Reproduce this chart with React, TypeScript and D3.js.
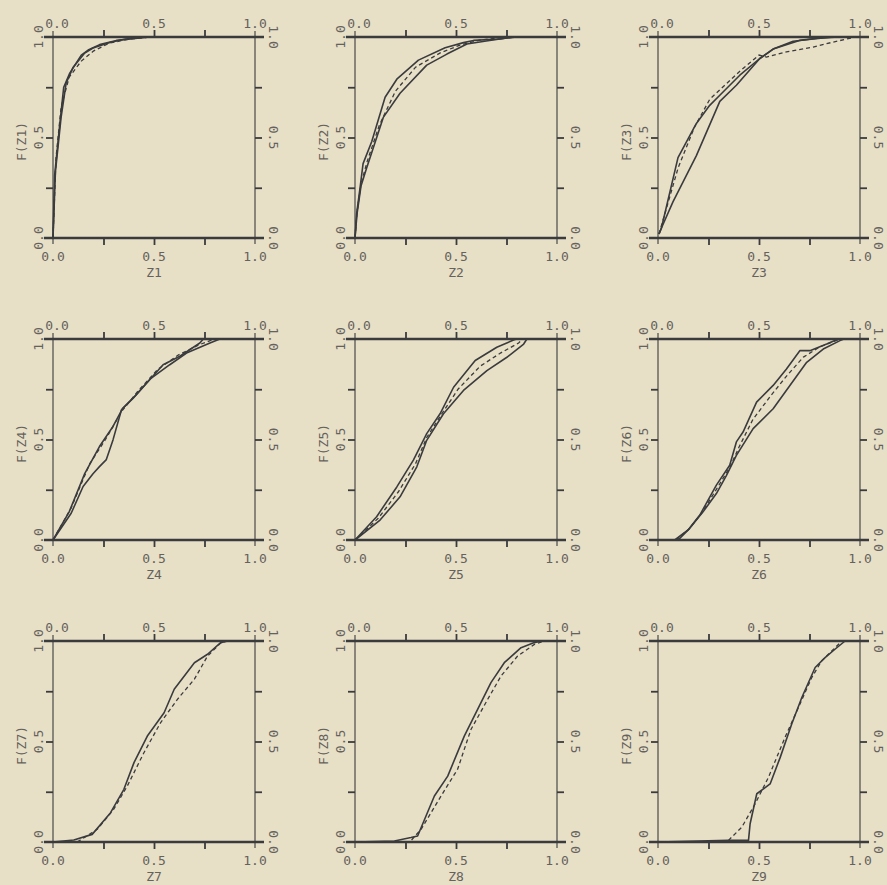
import { useEffect, useRef } from 'react';
import * as d3 from 'd3';

type Pt = [number, number];

// axis ticks and labels shared by all nine panels
const tickValues = [0, 0.25, 0.5, 0.75, 1];
const labelValues = [0, 0.5, 1];
const tickLabels = ['0.0', '0.5', '1.0'];
const xTitles = ['Z1', 'Z2', 'Z3', 'Z4', 'Z5', 'Z6', 'Z7', 'Z8', 'Z9'];
const yTitles = ['F(Z1)', 'F(Z2)', 'F(Z3)', 'F(Z4)', 'F(Z5)', 'F(Z6)', 'F(Z7)', 'F(Z8)', 'F(Z9)'];

// Z1
const z1SolidA: Pt[] = [[0, 0], [0.008, 0.31], [0.033, 0.56], [0.053, 0.75], [0.083, 0.82], [0.14, 0.91], [0.174, 0.935], [0.231, 0.962], [0.314, 0.983], [0.43, 0.995], [0.48, 1], [1, 1]];
const z1SolidB: Pt[] = [[0, 0], [0.012, 0.33], [0.04, 0.6], [0.065, 0.77], [0.1, 0.85], [0.157, 0.92], [0.198, 0.945], [0.281, 0.973], [0.36, 0.99], [0.46, 1], [1, 1]];
const z1Dashed: Pt[] = [[0, 0], [0.015, 0.4], [0.04, 0.65], [0.08, 0.8], [0.14, 0.88], [0.2, 0.93], [0.28, 0.97], [0.38, 0.99], [0.48, 1]];

// Z2
const z2SolidA: Pt[] = [[0, 0], [0.008, 0.12], [0.025, 0.25], [0.04, 0.37], [0.083, 0.48], [0.149, 0.7], [0.207, 0.79], [0.314, 0.885], [0.446, 0.947], [0.537, 0.972], [0.587, 0.983], [0.72, 0.99], [0.785, 1], [1, 1]];
const z2SolidB: Pt[] = [[0, 0], [0.01, 0.12], [0.03, 0.26], [0.058, 0.35], [0.14, 0.6], [0.223, 0.72], [0.355, 0.86], [0.455, 0.915], [0.554, 0.965], [0.65, 0.98], [0.75, 0.995], [0.8, 1], [1, 1]];
const z2Dashed: Pt[] = [[0, 0], [0.01, 0.13], [0.03, 0.27], [0.06, 0.38], [0.12, 0.56], [0.2, 0.73], [0.3, 0.85], [0.42, 0.92], [0.52, 0.96], [0.62, 0.985], [0.75, 1]];

// Z3
const z3SolidA: Pt[] = [[0.005, 0.02], [0.017, 0.05], [0.099, 0.4], [0.19, 0.57], [0.256, 0.66], [0.306, 0.71], [0.405, 0.81], [0.504, 0.893], [0.57, 0.94], [0.669, 0.979], [0.768, 0.99], [0.868, 1], [1, 1]];
const z3SolidB: Pt[] = [[0.005, 0.02], [0.017, 0.05], [0.074, 0.18], [0.19, 0.41], [0.306, 0.68], [0.388, 0.76], [0.504, 0.893], [0.57, 0.94], [0.7, 0.983], [0.8, 0.995], [0.9, 1], [1, 1]];
const z3Dashed: Pt[] = [[0.005, 0.02], [0.1, 0.35], [0.18, 0.55], [0.256, 0.69], [0.405, 0.83], [0.5, 0.91], [0.537, 0.9], [0.636, 0.926], [0.768, 0.95], [0.868, 0.975], [0.98, 1]];

// Z4
const z4SolidA: Pt[] = [[0, 0], [0.09, 0.133], [0.149, 0.266], [0.198, 0.33], [0.23, 0.365], [0.264, 0.4], [0.297, 0.498], [0.339, 0.648], [0.397, 0.706], [0.463, 0.78], [0.545, 0.872], [0.628, 0.914], [0.727, 0.98], [0.744, 1], [1, 1]];
const z4SolidB: Pt[] = [[0, 0], [0.08, 0.14], [0.157, 0.33], [0.23, 0.465], [0.297, 0.565], [0.345, 0.655], [0.41, 0.72], [0.48, 0.8], [0.578, 0.872], [0.661, 0.93], [0.777, 0.98], [0.826, 1], [1, 1]];
const z4Dashed: Pt[] = [[0, 0], [0.09, 0.16], [0.182, 0.38], [0.26, 0.5], [0.34, 0.64], [0.42, 0.74], [0.52, 0.85], [0.62, 0.92], [0.72, 0.97], [0.8, 1]];

// Z5
const z5SolidA: Pt[] = [[0, 0], [0.107, 0.116], [0.207, 0.264], [0.289, 0.397], [0.355, 0.529], [0.421, 0.628], [0.488, 0.76], [0.595, 0.893], [0.702, 0.959], [0.785, 0.995], [0.8, 1], [1, 1]];
const z5SolidB: Pt[] = [[0, 0], [0.124, 0.099], [0.223, 0.215], [0.306, 0.364], [0.355, 0.496], [0.438, 0.628], [0.537, 0.744], [0.653, 0.843], [0.752, 0.909], [0.835, 0.975], [0.851, 1], [1, 1]];
const z5Dashed: Pt[] = [[0, 0], [0.115, 0.108], [0.215, 0.24], [0.3, 0.38], [0.355, 0.51], [0.43, 0.628], [0.51, 0.75], [0.62, 0.865], [0.72, 0.93], [0.81, 0.98], [0.83, 1]];

// Z6
const z6SolidA: Pt[] = [[0.083, 0], [0.149, 0.05], [0.207, 0.124], [0.289, 0.273], [0.355, 0.372], [0.388, 0.488], [0.421, 0.537], [0.488, 0.686], [0.57, 0.769], [0.636, 0.851], [0.702, 0.942], [0.752, 0.942], [0.835, 0.975], [0.893, 1], [1, 1]];
const z6SolidB: Pt[] = [[0.1, 0], [0.157, 0.058], [0.223, 0.14], [0.289, 0.231], [0.339, 0.322], [0.388, 0.421], [0.471, 0.554], [0.57, 0.653], [0.653, 0.769], [0.736, 0.884], [0.818, 0.95], [0.901, 0.992], [0.92, 1], [1, 1]];
const z6Dashed: Pt[] = [[0.09, 0], [0.153, 0.054], [0.215, 0.132], [0.289, 0.252], [0.36, 0.37], [0.4, 0.46], [0.47, 0.6], [0.56, 0.72], [0.64, 0.82], [0.72, 0.91], [0.8, 0.96], [0.9, 1]];

// Z7
const z7Solid: Pt[] = [[0, 0], [0.103, 0.01], [0.194, 0.038], [0.285, 0.146], [0.351, 0.262], [0.401, 0.395], [0.467, 0.527], [0.55, 0.643], [0.6, 0.76], [0.7, 0.892], [0.765, 0.934], [0.83, 0.992], [0.864, 1], [1, 1]];
const z7Dashed: Pt[] = [[0.12, 0], [0.219, 0.063], [0.3, 0.162], [0.368, 0.279], [0.45, 0.444], [0.533, 0.594], [0.616, 0.71], [0.7, 0.81], [0.765, 0.925], [0.83, 0.99], [0.86, 1]];

// Z8
const z8Solid: Pt[] = [[0, 0], [0.195, 0.005], [0.277, 0.022], [0.31, 0.03], [0.393, 0.229], [0.459, 0.328], [0.541, 0.527], [0.607, 0.66], [0.673, 0.793], [0.739, 0.892], [0.822, 0.967], [0.888, 0.992], [0.921, 1], [1, 1]];
const z8Dashed: Pt[] = [[0.28, 0.01], [0.327, 0.063], [0.426, 0.229], [0.508, 0.362], [0.574, 0.56], [0.657, 0.71], [0.723, 0.826], [0.805, 0.925], [0.888, 0.983], [0.937, 1]];

// Z9
const z9Solid: Pt[] = [[0, 0], [0.349, 0.008], [0.448, 0.008], [0.456, 0.091], [0.489, 0.24], [0.555, 0.289], [0.605, 0.421], [0.662, 0.587], [0.712, 0.719], [0.778, 0.868], [0.827, 0.917], [0.876, 0.959], [0.926, 1], [1, 1]];
const z9Dashed: Pt[] = [[0.349, 0.008], [0.415, 0.074], [0.481, 0.19], [0.547, 0.322], [0.629, 0.521], [0.695, 0.669], [0.761, 0.818], [0.81, 0.901], [0.86, 0.95], [0.91, 1]];

const solidSeries: Pt[][][] = [
  [z1SolidA, z1SolidB], [z2SolidA, z2SolidB], [z3SolidA, z3SolidB],
  [z4SolidA, z4SolidB], [z5SolidA, z5SolidB], [z6SolidA, z6SolidB],
  [z7Solid], [z8Solid], [z9Solid],
];
const dashedSeries: Pt[][] = [z1Dashed, z2Dashed, z3Dashed, z4Dashed, z5Dashed, z6Dashed, z7Dashed, z8Dashed, z9Dashed];

const W = 887;
const H = 885;
const paper = '#e8dfc7';
const ink = '#3a3b3d';
const textInk = '#64625c';

const App = () => {
  const svgRef = useRef<SVGSVGElement>(null);

  useEffect(() => {
    const svg = d3.select(svgRef.current);
    svg.selectAll('*').remove();

    svg.append('rect').attr('width', W).attr('height', H).attr('fill', paper);

    const colLefts = [53, 355, 658];
    const rowTops = [37, 339, 641];
    const pw = 202;
    const ph = 201;
    const font = "'DejaVu Sans Mono', monospace";

    for (let i = 0; i < 9; i++) {
      const left = colLefts[i % 3];
      const top = rowTops[Math.floor(i / 3)];
      const x = d3.scaleLinear().domain([0, 1]).range([left, left + pw]);
      const y = d3.scaleLinear().domain([0, 1]).range([top + ph, top]);
      const g = svg.append('g');

      // thin vertical frame lines
      [0, 1].forEach(v => {
        g.append('line')
          .attr('x1', x(v)).attr('x2', x(v))
          .attr('y1', y(1) - 6).attr('y2', y(0) + 6)
          .attr('stroke', ink).attr('stroke-width', 1.1);
      });
      // thick horizontal frame lines, running past the box
      [0, 1].forEach(v => {
        g.append('line')
          .attr('x1', x(0) - 9).attr('x2', x(1) + 9)
          .attr('y1', y(v)).attr('y2', y(v))
          .attr('stroke', ink).attr('stroke-width', 2.6);
      });

      // ticks on the four sides
      const axes = [
        { call: d3.axisLeft(y), tr: `translate(${x(0)},0)` },
        { call: d3.axisRight(y), tr: `translate(${x(1)},0)` },
        { call: d3.axisTop(x), tr: `translate(0,${y(1)})` },
        { call: d3.axisBottom(x), tr: `translate(0,${y(0)})` },
      ];
      axes.forEach(a => {
        const ag = g.append('g')
          .attr('transform', a.tr)
          .call(a.call.tickValues(tickValues.slice(1, 4)).tickSize(7).tickFormat(() => ''));
        ag.select('.domain').remove();
        ag.selectAll('line').attr('stroke', ink).attr('stroke-width', 1.8);
      });

      // tick labels
      const labelStyle = (t: d3.Selection<SVGTextElement, unknown, null, undefined>) =>
        t.attr('font-family', font).attr('font-size', 13).attr('fill', textInk)
          .attr('text-anchor', 'middle').attr('dominant-baseline', 'central');

      labelValues.forEach((v, k) => {
        g.append('text').attr('x', x(v) + (v === 0 ? 4 : 0)).attr('y', y(1) - 14)
          .call(labelStyle).text(tickLabels[k]);
        g.append('text').attr('x', x(v)).attr('y', y(0) + 18)
          .call(labelStyle).text(tickLabels[k]);
        g.append('text').attr('transform', `translate(${x(0) - 15},${y(v)}) rotate(-90)`)
          .call(labelStyle).text(tickLabels[k]);
        g.append('text').attr('transform', `translate(${x(1) + 18},${y(v)}) rotate(90)`)
          .call(labelStyle).text(tickLabels[k]);
      });

      // axis titles
      g.append('text').attr('x', x(0.5)).attr('y', y(0) + 34)
        .call(labelStyle).text(xTitles[i]);
      g.append('text').attr('transform', `translate(${x(0) - 32},${y(0.48)}) rotate(-90)`)
        .call(labelStyle).text(yTitles[i]);

      // curves
      const line = d3.line<Pt>().x(d => x(d[0])).y(d => y(d[1]));
      solidSeries[i].forEach(s => {
        g.append('path').attr('d', line(s)).attr('fill', 'none')
          .attr('stroke', ink).attr('stroke-width', 1.6).attr('stroke-linejoin', 'round');
      });
      g.append('path').attr('d', line(dashedSeries[i])).attr('fill', 'none')
        .attr('stroke', ink).attr('stroke-width', 1.3).attr('stroke-dasharray', '4,3');
    }
  }, []);

  return (
    <svg ref={svgRef} width={W} height={H}
      style={{ position: 'absolute', left: 0, top: 0, display: 'block' }} />
  );
};

export default App;
